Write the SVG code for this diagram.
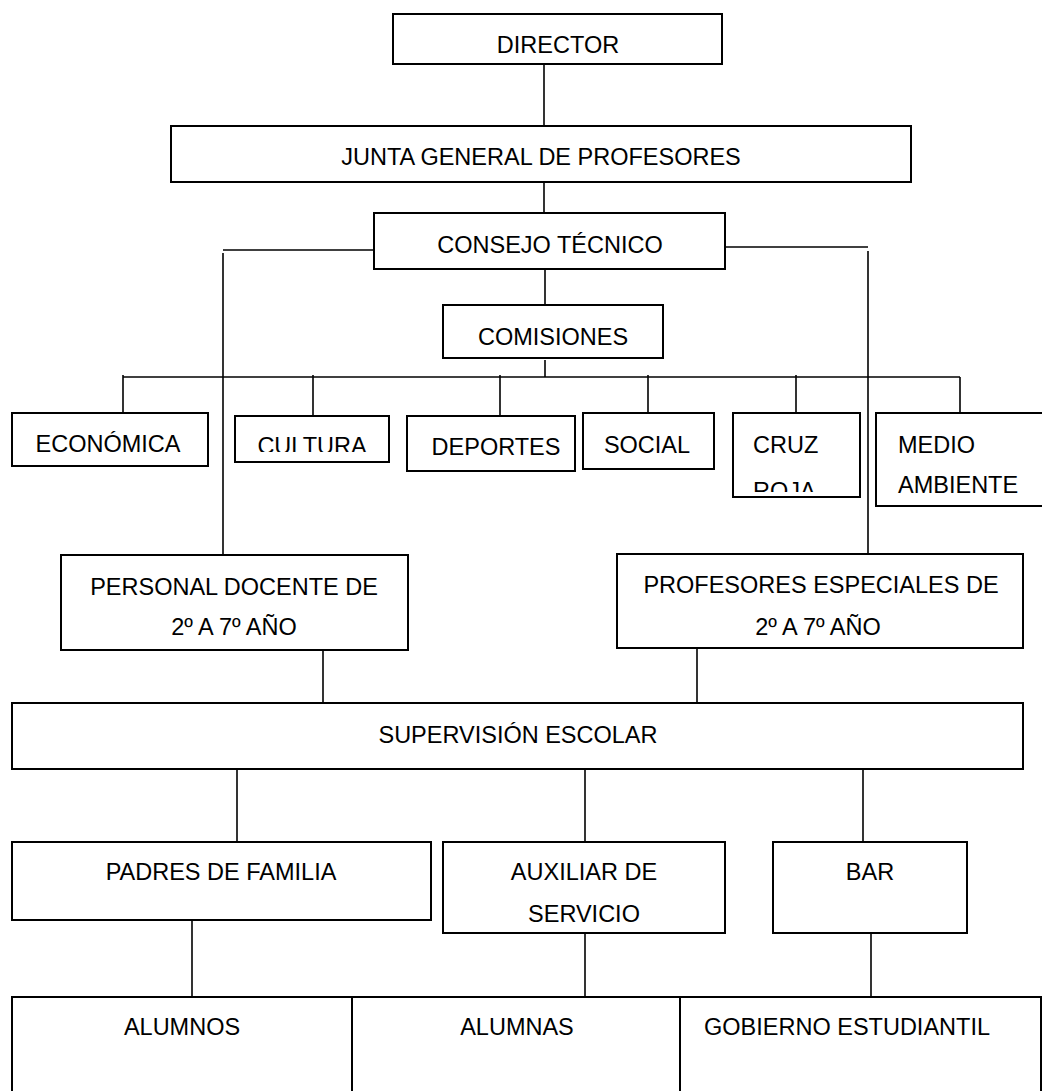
<svg xmlns="http://www.w3.org/2000/svg" width="1042" height="1091" viewBox="0 0 1042 1091">
<style>
.box{fill:#fff;stroke:#000;stroke-width:2}
.t{font-family:"Liberation Sans",Arial,sans-serif;font-size:23.5px;fill:#000;text-anchor:middle}
.l{text-anchor:start}
#connectors line{stroke:#000;stroke-width:1.6}
</style>
<defs>
<clipPath id="clipCultura"><rect x="236" y="417" width="152" height="35"/></clipPath>
<clipPath id="clipCruz"><rect x="734" y="414" width="125" height="78"/></clipPath>
</defs>
<rect width="1042" height="1091" fill="#fff"/>
<g id="connectors">
<line x1="544" y1="64" x2="544" y2="126"/>
<line x1="544" y1="175" x2="544" y2="213"/>
<line x1="374" y1="250" x2="223" y2="250"/>
<line x1="223" y1="253" x2="223" y2="555"/>
<line x1="725" y1="247" x2="868" y2="247"/>
<line x1="868" y1="251" x2="868" y2="554"/>
<line x1="545" y1="269" x2="545" y2="305"/>
<line x1="545" y1="360" x2="545" y2="377"/>
<line x1="123" y1="377" x2="960" y2="377"/>
<line x1="123" y1="375" x2="123" y2="415"/>
<line x1="313" y1="375" x2="313" y2="416"/>
<line x1="500" y1="375" x2="500" y2="416"/>
<line x1="648" y1="375" x2="648" y2="413"/>
<line x1="796" y1="375" x2="796" y2="413"/>
<line x1="960" y1="377" x2="960" y2="413"/>
<line x1="323" y1="648" x2="323" y2="703"/>
<line x1="697" y1="648" x2="697" y2="703"/>
<line x1="237" y1="769" x2="237" y2="842"/>
<line x1="585" y1="769" x2="585" y2="842"/>
<line x1="863" y1="769" x2="863" y2="842"/>
<line x1="192" y1="920" x2="192" y2="997"/>
<line x1="585" y1="933" x2="585" y2="997"/>
<line x1="871" y1="933" x2="871" y2="997"/>
</g>
<g id="director"><rect class="box" x="393" y="14" width="329" height="50"/><text class="t" x="558" y="53">DIRECTOR</text></g>
<g id="junta"><rect class="box" x="171" y="126" width="740" height="56"/><text class="t" x="541" y="165">JUNTA GENERAL DE PROFESORES</text></g>
<g id="consejo"><rect class="box" x="374" y="213" width="351" height="56"/><text class="t" x="550" y="253">CONSEJO TÉCNICO</text></g>
<g id="comisiones"><rect class="box" x="443" y="305" width="220" height="53"/><text class="t" x="553" y="345">COMISIONES</text></g>
<g id="economica"><rect class="box" x="12" y="413" width="196" height="53"/><text class="t" x="108" y="452">ECONÓMICA</text></g>
<g id="cultura"><rect class="box" x="235" y="416" width="154" height="46"/><text class="t" x="312" y="454" clip-path="url(#clipCultura)">CULTURA</text></g>
<g id="deportes"><rect class="box" x="407" y="416" width="168" height="55"/><text class="t" x="496" y="455">DEPORTES</text></g>
<g id="social"><rect class="box" x="583" y="413" width="131" height="56"/><text class="t" x="647" y="453">SOCIAL</text></g>
<g id="cruzroja"><rect class="box" x="733" y="413" width="127" height="84"/><g clip-path="url(#clipCruz)"><text class="t l" x="753" y="453">CRUZ</text><text class="t l" x="753" y="499">ROJA</text></g></g>
<g id="medioambiente"><rect class="box" x="876" y="413" width="180" height="93"/><text class="t l" x="898" y="453">MEDIO</text><text class="t l" x="898" y="493">AMBIENTE</text></g>
<g id="personal"><rect class="box" x="61" y="555" width="347" height="95"/><text class="t" x="234" y="595">PERSONAL DOCENTE DE</text><text class="t" x="234" y="635">2º A 7º AÑO</text></g>
<g id="profesores"><rect class="box" x="617" y="554" width="406" height="94"/><text class="t" x="821" y="593">PROFESORES ESPECIALES DE</text><text class="t" x="818" y="635">2º A 7º AÑO</text></g>
<g id="supervision"><rect class="box" x="12" y="703" width="1011" height="66"/><text class="t" x="518" y="743">SUPERVISIÓN ESCOLAR</text></g>
<g id="padres"><rect class="box" x="12" y="842" width="419" height="78"/><text class="t" x="221" y="880">PADRES DE FAMILIA</text></g>
<g id="auxiliar"><rect class="box" x="443" y="842" width="282" height="91"/><text class="t" x="584" y="880">AUXILIAR DE</text><text class="t" x="584" y="922">SERVICIO</text></g>
<g id="bar"><rect class="box" x="773" y="842" width="194" height="91"/><text class="t" x="870" y="880">BAR</text></g>
<g id="alumnos"><rect class="box" x="12" y="997" width="340" height="110"/><text class="t" x="182" y="1035">ALUMNOS</text></g>
<g id="alumnas"><rect class="box" x="352" y="997" width="328" height="110"/><text class="t" x="517" y="1035">ALUMNAS</text></g>
<g id="gobierno"><rect class="box" x="680" y="997" width="361" height="110"/><text class="t" x="847" y="1035">GOBIERNO ESTUDIANTIL</text></g>
</svg>
